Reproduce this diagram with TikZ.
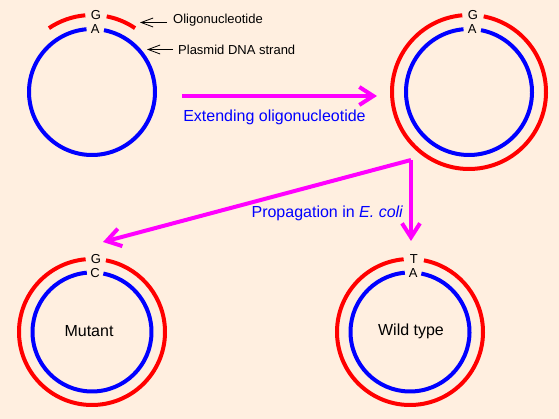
\documentclass[tikz,border=0pt]{standalone}
\usepackage{fontspec}
\setmainfont{Liberation Sans}
\usetikzlibrary{arrows.meta}
\definecolor{peach}{RGB}{255,239,224}
\definecolor{pink}{RGB}{255,0,255}
\tikzset{
  redstrand/.style={red,line width=4pt},
  bluestrand/.style={blue,line width=4pt},
  base/.style={font=\fontsize{13}{15}\selectfont,inner sep=0pt},
  caption/.style={blue,font=\fontsize{16}{19}\selectfont,inner sep=0pt},
  pointer/.style={-{Straight Barb[length=12pt,width=9pt]},line width=0.8pt},
  bigarrow/.style={pink,line width=4pt,-{Straight Barb[length=14pt,width=18pt]}}
}
\begin{document}
\begin{tikzpicture}[x=1pt,y=1pt]
    \fill[peach] (0,0) rectangle (559,419);
    \coordinate (tl) at (92,327);
    \coordinate (tr) at (469,327);
    \coordinate (bl) at (92,87);
    \coordinate (br) at (410,87);
    % plasmid with annealed oligo
    \draw[bluestrand] (tl) ++(95:63) arc[start angle=95,end angle=439,radius=63];
    \draw[redstrand] (tl) ++(124:77) arc[start angle=124,end angle=95,radius=77];
    \draw[redstrand] (tl) ++(79:77) arc[start angle=79,end angle=56,radius=77];
    % double stranded plasmids
    \foreach \c/\rb/\rr in {tr/63/77, bl/59.5/73, br/59.5/73}{
        \draw[bluestrand] (\c) ++(95:\rb) arc[start angle=95,end angle=439,radius=\rb];
        \draw[redstrand] (\c) ++(95:\rr) arc[start angle=95,end angle=439,radius=\rr];
    }
    % bases at the site
    \foreach \c/\rb/\rr/\ob/\pb in {tl/63/77/G/A, tr/63/77/G/A, bl/59.5/73/G/C, br/59.5/73/T/A}{
        \path (\c) ++(87:\rr) node[base] (\c-ob) {\ob};
        \path (\c) ++(87:\rb) node[base] (\c-pb) {\pb};
    }
    % labels
    \node[base,anchor=west] (oligo) at (173,398.5) {Oligonucleotide};
    \coordinate (oligotip) at (140,396.5);
    \draw[pointer] ([xshift=-6pt]oligo.west |- oligotip) -- (oligotip);
    \node[base,anchor=west] (strand) at (178,369) {Plasmid DNA strand};
    \coordinate (strandtip) at (147,369.5);
    \draw[pointer] ([xshift=-5pt]strand.west |- strandtip) -- (strandtip);
    \node[base,font=\fontsize{16}{19}\selectfont] (mutant) at (89,88) {Mutant};
    \node[base,font=\fontsize{16}{19}\selectfont] (wild) at (411,88) {Wild type};
    % steps
    \coordinate (extfrom) at (182,323);
    \coordinate (extto) at (377,323);
    \draw[bigarrow] (extfrom) -- (extto);
    \node[caption] (extend) at (274.5,302) {Extending oligonucleotide};
    \coordinate (fork) at (411,259);
    \coordinate (mutto) at (103,177);
    \coordinate (wildto) at (411,178);
    \draw[bigarrow] (fork) -- (mutto);
    \draw[bigarrow] (fork) -- (wildto);
    \node[caption,anchor=east] (prop) at (403,206) {Propagation in {\itshape E. coli}};
\end{tikzpicture}
\end{document}
